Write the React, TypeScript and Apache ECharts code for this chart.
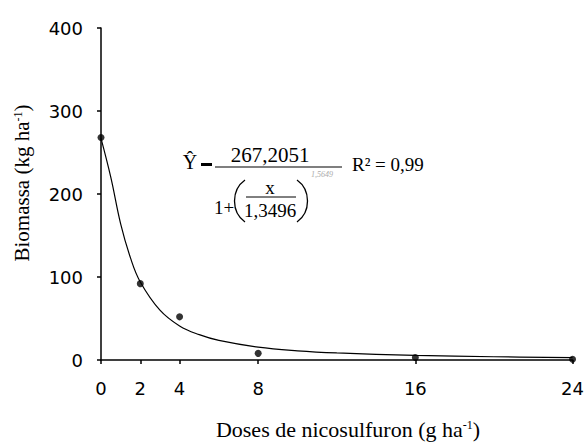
import React, { useEffect, useRef } from "react";
import * as echarts from "echarts";

const doseTicks = [0, 2, 4, 8, 16, 24];
const observedDose = [0, 2, 4, 8, 16, 24];
const observedBiomass = [268, 92, 52, 8, 3, 1];
const curveDose = [0, 0.5, 1, 1.5, 2, 3, 4, 5, 6, 8, 10, 12, 16, 20, 24];
const curveBiomass = [267, 220, 164, 123, 94, 60, 41, 30.5, 23.6, 15.5, 11.1, 8.5, 5.5, 3.9, 2.9];

export default function App() {
  const ref = useRef<HTMLDivElement>(null);
  useEffect(() => {
    if (!ref.current) return;
    const chart = echarts.init(ref.current, undefined, { renderer: "svg" });
    const tickFont = { fontFamily: "DejaVu Sans", fontSize: 18, color: "#000" };
    const serif = "Liberation Serif";
    const eq = (x: number, y: number, text: string, size: number, extra: any = {}) => ({
      type: "text",
      x,
      y,
      style: { text, fontFamily: serif, fontSize: size, fill: "#000", align: "center", verticalAlign: "middle", ...extra },
    });
    chart.setOption({
      animation: false,
      backgroundColor: "#fff",
      grid: { left: 101, right: 13, top: 28, bottom: 82 },
      xAxis: {
        type: "value",
        min: 0,
        max: 24,
        splitLine: { show: false },
        axisLine: { lineStyle: { color: "#000", width: 1.5 } },
        axisTick: { show: true, length: 4, customValues: doseTicks, lineStyle: { color: "#000", width: 1.5 } },
        axisLabel: { customValues: doseTicks, margin: 19, ...tickFont },
      },
      yAxis: {
        type: "value",
        min: 0,
        max: 400,
        interval: 100,
        splitLine: { show: false },
        axisLine: { show: true, lineStyle: { color: "#000", width: 1.5 } },
        axisTick: { show: true, length: 4, lineStyle: { color: "#000", width: 1.5 } },
        axisLabel: { margin: 18, ...tickFont },
      },
      series: [
        {
          type: "line",
          data: curveDose.map((d, i) => [d, curveBiomass[i]]),
          smooth: 0.4,
          showSymbol: false,
          lineStyle: { color: "#000", width: 1.2 },
          z: 2,
        },
        {
          type: "scatter",
          data: observedDose.map((d, i) => [d, observedBiomass[i]]),
          symbolSize: 7,
          itemStyle: { color: "#000" },
          z: 3,
        },
      ],
      graphic: [
        {
          type: "text",
          x: 22,
          y: 183,
          rotation: Math.PI / 2,
          style: {
            text: "Biomassa (kg ha{s|-1})",
            fontFamily: serif,
            fontSize: 21,
            fill: "#000",
            align: "center",
            verticalAlign: "middle",
            rich: { s: { fontFamily: serif, fontSize: 12, padding: [0, 0, 9, 0] } },
          },
        },
        {
          type: "text",
          x: 348,
          y: 429,
          style: {
            text: "Doses de nicosulfuron (g ha{s|-1})",
            fontFamily: serif,
            fontSize: 22,
            fill: "#000",
            align: "center",
            verticalAlign: "middle",
            rich: { s: { fontFamily: serif, fontSize: 12, padding: [0, 0, 9, 0] } },
          },
        },
        eq(190, 162, "Ŷ", 20),
        { type: "line", shape: { x1: 201, y1: 164.5, x2: 212, y2: 164.5 }, style: { stroke: "#000", lineWidth: 3 } },
        eq(270, 155, "267,2051", 21),
        { type: "line", shape: { x1: 215, y1: 167, x2: 342, y2: 167 }, style: { stroke: "#000", lineWidth: 1.2 } },
        eq(224, 207, "1+", 19),
        { type: "bezierCurve", shape: { x1: 245, y1: 180, cpx1: 231, cpy1: 190, cpx2: 231, cpy2: 212, x2: 245, y2: 222 }, style: { stroke: "#000", lineWidth: 1.3, fill: "none" } },
        eq(270, 187, "x", 19),
        { type: "line", shape: { x1: 246, y1: 197, x2: 296, y2: 197 }, style: { stroke: "#000", lineWidth: 1 } },
        eq(270, 210, "1,3496", 19),
        { type: "bezierCurve", shape: { x1: 297, y1: 180, cpx1: 311, cpy1: 190, cpx2: 311, cpy2: 212, x2: 297, y2: 222 }, style: { stroke: "#000", lineWidth: 1.3, fill: "none" } },
        eq(322, 174, "1,5649", 8, { fill: "#aaa", fontStyle: "italic" }),
        eq(352, 164, "R² = 0,99", 19, { align: "left" }),
      ],
    });
    return () => chart.dispose();
  }, []);
  return <div ref={ref} style={{ width: 587, height: 442, position: "absolute", left: 0, top: 0 }} />;
}
